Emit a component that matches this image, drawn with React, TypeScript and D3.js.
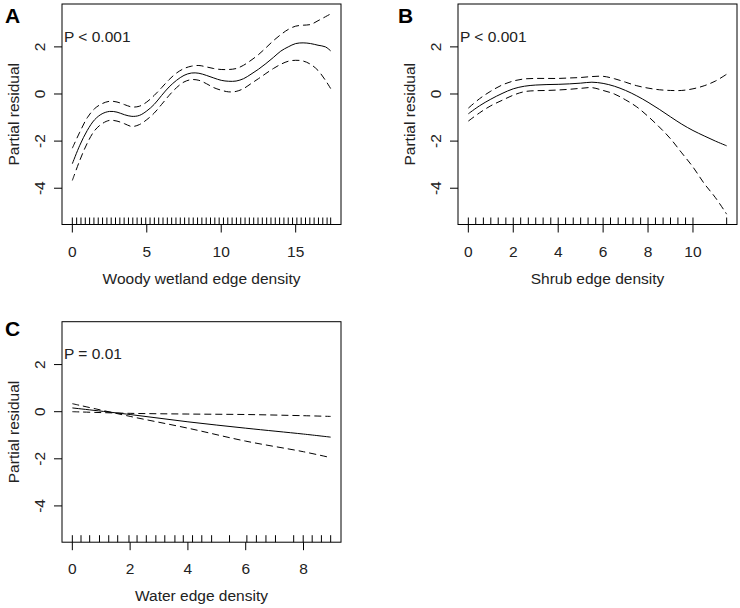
import * as d3 from 'd3';

// shared y axis
const yTicks = [-4, -2, 0, 2];
const yDomain: [number, number] = [-5.54, 3.82];

// A: woody wetland edge density
const woodyX = [0, 0.5, 1, 1.5, 2, 2.5, 3, 3.5, 4, 4.5, 5, 5.5, 6, 6.5, 7, 7.5, 8, 8.5, 9, 9.5, 10, 10.5, 11, 11.5, 12, 12.5, 13, 13.5, 14, 14.5, 15, 15.5, 16, 16.5, 17, 17.35];
const woodyFit = [-2.96, -2.18, -1.55, -1.09, -0.84, -0.74, -0.77, -0.88, -0.95, -0.91, -0.72, -0.44, -0.06, 0.3, 0.58, 0.79, 0.89, 0.88, 0.79, 0.68, 0.58, 0.54, 0.55, 0.65, 0.84, 1.05, 1.29, 1.55, 1.82, 2.0, 2.14, 2.17, 2.14, 2.07, 2.0, 1.83];
const woodyUpper = [-2.3, -1.62, -1.01, -0.62, -0.41, -0.31, -0.34, -0.45, -0.55, -0.52, -0.34, -0.06, 0.27, 0.61, 0.89, 1.08, 1.18, 1.21, 1.15, 1.08, 1.04, 1.04, 1.08, 1.22, 1.43, 1.67, 1.96, 2.26, 2.52, 2.74, 2.88, 2.92, 2.95, 3.11, 3.28, 3.4];
const woodyLower = [-3.67, -2.82, -2.09, -1.55, -1.26, -1.12, -1.15, -1.26, -1.38, -1.3, -1.09, -0.81, -0.44, -0.06, 0.27, 0.51, 0.61, 0.58, 0.44, 0.27, 0.16, 0.09, 0.11, 0.23, 0.44, 0.65, 0.87, 1.08, 1.26, 1.39, 1.43, 1.4, 1.26, 1.0, 0.58, 0.23];
const woodyRug = [0, 0.29, 0.58, 0.87, 1.16, 1.45, 1.74, 2.03, 2.32, 2.61, 2.9, 3.19, 3.48, 3.77, 4.06, 4.35, 4.64, 4.93, 5.22, 5.51, 5.8, 6.09, 6.38, 6.67, 6.96, 7.25, 7.54, 7.83, 8.12, 8.41, 8.7, 8.99, 9.28, 9.57, 9.86, 10.15, 10.44, 10.73, 11.02, 11.31, 11.6, 11.89, 12.18, 12.47, 12.76, 13.05, 13.34, 13.63, 13.92, 14.21, 14.5, 14.79, 15.08, 15.37, 15.66, 15.95, 16.24, 16.53, 16.82, 17.11, 17.35];
const woodyTicks = [0, 5, 10, 15];

// B: shrub edge density
const shrubX = [0, 0.5, 1, 1.5, 2, 2.5, 3, 3.5, 4, 4.5, 5, 5.5, 6, 6.5, 7, 7.5, 8, 8.5, 9, 9.5, 10, 10.5, 11, 11.5];
const shrubFit = [-0.84, -0.5, -0.22, 0.02, 0.22, 0.33, 0.38, 0.4, 0.41, 0.43, 0.46, 0.5, 0.45, 0.33, 0.15, -0.08, -0.35, -0.65, -0.97, -1.28, -1.55, -1.78, -2.0, -2.2];
const shrubUpper = [-0.6, -0.2, 0.12, 0.38, 0.55, 0.64, 0.66, 0.66, 0.66, 0.68, 0.7, 0.74, 0.75, 0.65, 0.5, 0.35, 0.25, 0.18, 0.15, 0.15, 0.22, 0.35, 0.55, 0.84];
const shrubLower = [-1.15, -0.8, -0.5, -0.27, -0.05, 0.1, 0.14, 0.15, 0.17, 0.2, 0.24, 0.27, 0.15, 0.0, -0.25, -0.55, -0.95, -1.4, -1.9, -2.5, -3.1, -3.8, -4.4, -5.1];
const shrubRug = [0, 0.33, 0.67, 1, 1.33, 1.67, 2, 2.33, 2.67, 3, 3.33, 3.67, 4, 4.33, 4.67, 5, 5.33, 5.67, 6, 6.33, 6.67, 7, 7.33, 7.67, 8, 8.33, 8.67, 9, 9.33, 9.67, 10, 11.5];
const shrubTicks = [0, 2, 4, 6, 8, 10];

// C: water edge density
const waterX = [0, 2, 4, 6, 8, 8.94];
const waterFit = [0.16, -0.12, -0.43, -0.7, -0.95, -1.08];
const waterUpper = [0.0, -0.07, -0.1, -0.12, -0.17, -0.2];
const waterLower = [0.34, -0.2, -0.7, -1.25, -1.7, -1.95];
const waterRug = [0, 0.3, 0.6, 0.94, 1.26, 1.57, 1.96, 2.24, 2.56, 2.89, 3.2, 3.55, 3.84, 4.16, 4.48, 4.82, 5.44, 6.04, 6.37, 6.7, 7.03, 7.66, 7.99, 8.3, 8.62, 8.94];
const waterTicks = [0, 2, 4, 6, 8];

const FONT = '"Liberation Sans", Arial, sans-serif';
const INK = '#222';

interface PanelProps {
  left: number;
  top: number;
  letter: string;
  letterX: number;
  letterY: number;
  pText: string;
  xLabel: string;
  xs: number[];
  fit: number[];
  upper: number[];
  lower: number[];
  rug: number[];
  ticks: number[];
}

function Panel({ left, top, letter, letterX, letterY, pText, xLabel, xs, fit, upper, lower, rug, ticks }: PanelProps) {
  const w = 279, h = 220.5;
  const xMax = d3.max(xs) as number;
  const x = d3.scaleLinear().domain([-0.04 * xMax, 1.04 * xMax]).range([left, left + w]);
  const y = d3.scaleLinear().domain(yDomain).range([top + h, top]);
  const mk = (vals: number[]) =>
    d3.line<number>().x((_, i) => x(xs[i])).y(d => y(d)).curve(d3.curveCatmullRom)(vals) || '';
  const bottom = top + h;

  return (
    <g>
      <rect x={left} y={top} width={w} height={h} fill="none" stroke="#000" strokeWidth={1} />
      {/* y axis */}
      {yTicks.map(t => (
        <g key={t}>
          <line x1={left - 8} x2={left} y1={y(t)} y2={y(t)} stroke="#000" />
          <text transform={`translate(${left - 17},${y(t)}) rotate(-90)`} textAnchor="middle"
            fontSize={15.5} fontFamily={FONT} fill={INK}>{t}</text>
        </g>
      ))}
      <text transform={`translate(${left - 43.5},${top + h / 2}) rotate(-90)`} textAnchor="middle"
        fontSize={15.5} fontFamily={FONT} fill={INK}>Partial residual</text>
      {/* x axis */}
      {ticks.map(t => (
        <g key={t}>
          <line x1={x(t)} x2={x(t)} y1={bottom} y2={bottom + 8} stroke="#000" />
          <text x={x(t)} y={bottom + 32} textAnchor="middle" fontSize={15.5} fontFamily={FONT} fill={INK}>{t}</text>
        </g>
      ))}
      <text x={left + w / 2} y={bottom + 59} textAnchor="middle" fontSize={15.5} fontFamily={FONT} fill={INK}>{xLabel}</text>
      {/* rug */}
      {rug.map((r, i) => (
        <line key={i} x1={x(r)} x2={x(r)} y1={bottom} y2={bottom - 7} stroke="#000" />
      ))}
      {/* smooth + confidence band */}
      <path d={mk(fit)} fill="none" stroke="#000" strokeWidth={1} />
      <path d={mk(upper)} fill="none" stroke="#000" strokeWidth={1} strokeDasharray="7,4" />
      <path d={mk(lower)} fill="none" stroke="#000" strokeWidth={1} strokeDasharray="7,4" />
      <text x={left + 2} y={top + 37.7} fontSize={15.5} fontFamily={FONT} fill={INK}>{pText}</text>
      <text x={letterX} y={letterY} textAnchor="middle" fontSize={21} fontWeight="bold" fontFamily={FONT} fill="#000">{letter}</text>
    </g>
  );
}

export default function App() {
  return (
    <svg width={740} height={608} style={{ position: 'absolute', left: 0, top: 0, background: '#fff' }}>
      <rect width={740} height={608} fill="#fff" />
      <Panel left={62} top={4} letter="A" letterX={12.5} letterY={23} pText="P < 0.001"
        xLabel="Woody wetland edge density" xs={woodyX} fit={woodyFit} upper={woodyUpper} lower={woodyLower}
        rug={woodyRug} ticks={woodyTicks} />
      <Panel left={458} top={4} letter="B" letterX={405.5} letterY={23} pText="P < 0.001"
        xLabel="Shrub edge density" xs={shrubX} fit={shrubFit} upper={shrubUpper} lower={shrubLower}
        rug={shrubRug} ticks={shrubTicks} />
      <Panel left={62} top={321.7} letter="C" letterX={12.5} letterY={335.7} pText="P = 0.01"
        xLabel="Water edge density" xs={waterX} fit={waterFit} upper={waterUpper} lower={waterLower}
        rug={waterRug} ticks={waterTicks} />
    </svg>
  );
}
